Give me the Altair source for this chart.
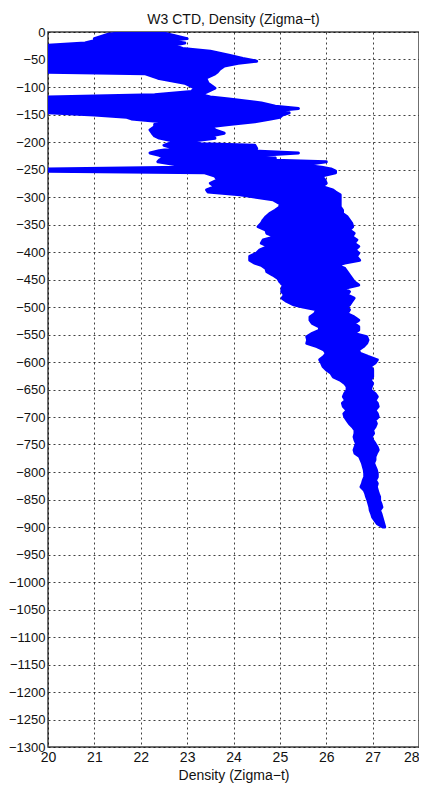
import altair as alt
import pandas as pd

# Depth (m, positive downward) with left / right envelope of the density trace
DEPTH = [0, 4, 8, 12, 16, 20, 24, 30, 35, 42, 48, 53, 57, 62, 68, 73, 76, 84, 93,
         102, 108, 114, 118, 122, 129, 135, 139, 143, 147, 151, 155, 158, 163, 168,
         172, 178, 184, 189, 193, 200, 203, 206, 212, 216, 220, 224, 229, 233, 236,
         242, 246, 249, 253, 256, 262, 269, 275, 281, 287, 291, 296, 305, 312, 318,
         324, 330, 336, 342, 348, 354, 360, 366, 372, 378, 384, 390, 396, 402, 408,
         415, 420, 424, 430, 436, 442, 448, 454, 460, 466, 472, 478, 484, 490, 496,
         500, 505, 512, 518, 524, 530, 536, 542, 548, 554, 560, 566, 572, 578, 584,
         590, 596, 602, 608, 614, 620, 627, 633, 639, 645, 651, 657, 663, 670, 675,
         681, 688, 694, 700, 706, 712, 718, 724, 730, 736, 742, 748, 755, 760, 766,
         772, 778, 784, 790, 796, 803, 809, 815, 821, 827, 833, 839, 845, 852, 858,
         864, 870, 876, 882, 888, 894, 900]
LEFT = [21.75, 21.3, 21.15, 21.0, 21.0, 20.8, 20.0, 20.0, 20.0, 20.0, 20.0, 20.0,
        20.0, 20.0, 20.0, 20.0, 22.1, 22.37, 22.95, 23.17, 23.1, 22.3, 20.0, 20.0,
        20.0, 20.0, 20.0, 20.0, 20.0, 21.0, 21.7, 21.8, 22.45, 22.3, 22.3, 22.2,
        22.25, 22.3, 22.4, 22.8, 22.6, 22.5, 22.74, 22.4, 22.2, 22.4, 22.5, 22.4,
        22.37, 22.8, 22.9, 20.0, 20.0, 23.38, 23.6, 23.66, 23.5, 23.6, 23.42, 23.45,
        24.14, 24.85, 25.0, 25.0, 24.9, 24.78, 24.7, 24.64, 24.6, 24.53, 24.7, 24.72,
        24.9, 24.64, 24.6, 24.75, 24.57, 24.5, 24.35, 24.35, 24.45, 24.6, 24.7, 24.72,
        24.85, 24.96, 25.0, 25.07, 25.05, 25.04, 25.1, 25.05, 25.15, 25.3, 25.5, 25.8,
        25.75, 25.65, 25.65, 25.7, 25.85, 25.86, 25.7, 25.58, 25.6, 25.58, 25.8,
        25.95, 26.0, 25.95, 25.86, 25.9, 25.93, 26.0, 26.1, 26.15, 26.3, 26.4, 26.45,
        26.45, 26.4, 26.37, 26.42, 26.35, 26.37, 26.45, 26.38, 26.4, 26.45, 26.5,
        26.57, 26.62, 26.62, 26.6, 26.62, 26.65, 26.62, 26.6, 26.62, 26.72, 26.75,
        26.78, 26.8, 26.82, 26.83, 26.83, 26.8, 26.78, 26.75, 26.82, 26.85, 26.87,
        26.9, 26.92, 26.94, 26.95, 26.98, 27.0, 27.05, 27.1, 27.22]
RIGHT = [22.4, 22.6, 22.8, 23.0, 22.6, 22.95, 22.7, 22.9, 23.5, 23.9, 24.2, 24.5,
         24.1, 23.8, 23.7, 23.65, 23.6, 23.4, 23.45, 23.6, 23.45, 23.3, 23.5, 23.9,
         24.6, 24.9, 25.4, 24.9, 25.2, 25.05, 25.0, 24.8, 24.46, 23.9, 23.53, 23.6,
         23.8, 23.5, 23.6, 22.95, 23.3, 24.46, 24.5, 24.3, 25.4, 24.6, 24.9, 24.9,
         26.0, 25.5, 25.9, 26.1, 26.2, 26.2, 25.9, 25.97, 26.0, 25.9, 26.14, 26.2,
         26.3, 26.3, 26.3, 26.3, 26.35, 26.35, 26.45, 26.5, 26.55, 26.57, 26.5, 26.6,
         26.55, 26.66, 26.6, 26.7, 26.62, 26.7, 26.65, 26.72, 26.4, 26.23, 26.4, 26.45,
         26.5, 26.55, 26.6, 26.7, 26.4, 26.5, 26.45, 26.6, 26.55, 26.5, 26.45, 26.5,
         26.45, 26.6, 26.7, 26.6, 26.7, 26.7, 26.6, 26.87, 26.9, 26.87, 26.8, 26.7,
         26.72, 26.9, 27.1, 27.05, 26.95, 27.0, 27.0, 27.0, 26.95, 27.0, 26.97, 26.95,
         27.05, 27.1, 27.05, 27.1, 27.12, 27.05, 27.1, 27.12, 27.05, 27.08, 27.05,
         27.0, 27.02, 26.97, 27.0, 27.05, 27.1, 27.12, 27.08, 27.05, 27.05, 27.02,
         27.05, 27.08, 27.1, 27.1, 27.06, 27.1, 27.08, 27.1, 27.12, 27.15, 27.15,
         27.18, 27.2, 27.15, 27.18, 27.2, 27.22, 27.24, 27.26]

X_TICKS = [20, 21, 22, 23, 24, 25, 26, 27, 28]
Y_TICKS = list(range(0, -1301, -50))

df = pd.DataFrame({"z": [-d for d in DEPTH], "left": LEFT, "right": RIGHT})

BLUE = "#0000FF"

area = alt.Chart(df).mark_area(
    orient="horizontal", color=BLUE, stroke=BLUE, strokeWidth=3,
    strokeJoin="round", clip=True, opacity=1
).encode(
    y=alt.Y("z:Q", scale=alt.Scale(domain=[-1300, 0], nice=False, zero=False),
            axis=alt.Axis(values=Y_TICKS, format="d", title=None,
                          labelFontSize=13, labelPadding=3)),
    x=alt.X("left:Q", scale=alt.Scale(domain=[20, 28], nice=False, zero=False),
            axis=alt.Axis(values=X_TICKS, format="d", title="Density (Zigma\u2212t)",
                          labelFontSize=14, labelPadding=3, titlePadding=4,
                          labelFlush=False,
                          labelAlign=alt.expr("datum.value == 28 ? 'right' : 'center'"))),
    x2="right:Q",
)

chart = area.properties(
    width=371, height=715,
    title=alt.TitleParams("W3 CTD, Density (Zigma\u2212t)", fontSize=14,
                          fontWeight="normal", font="Liberation Sans",
                          color="#111111", anchor="middle", frame="group",
                          offset=-1),
    autosize=alt.AutoSizeParams(type="none"),
    padding={"left": 40, "top": 24, "right": 0, "bottom": 36},
).configure_view(
    stroke="#404040", strokeWidth=1.5
).configure_axis(
    domain=False, ticks=False, tickSize=0, grid=True, gridColor="#000000",
    gridDash=[2, 3], gridOpacity=0.75, gridWidth=1,
    labelFont="Liberation Sans", labelColor="#111111",
    titleFont="Liberation Sans", titleFontSize=14, titleFontWeight="normal",
    titleColor="#111111",
)

chart.save("out.html", embed_options={"renderer": "svg", "actions": False})
